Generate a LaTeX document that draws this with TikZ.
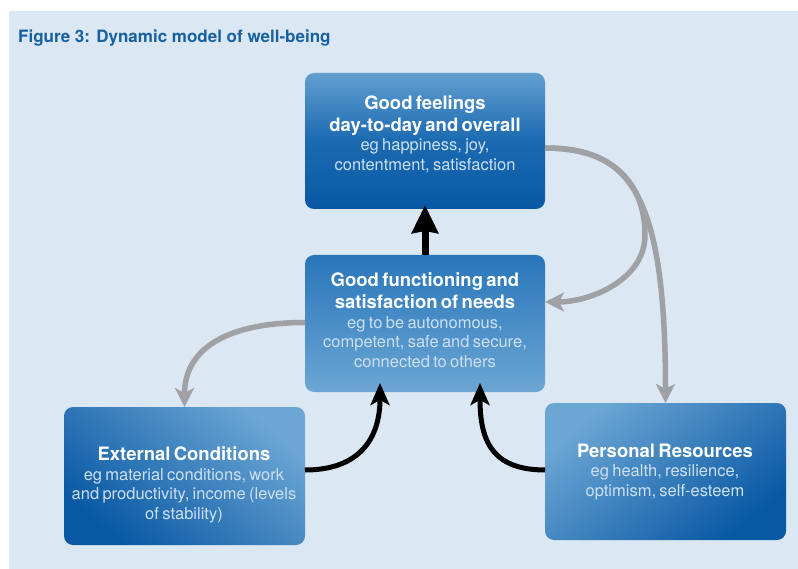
\documentclass[tikz,border=0pt]{standalone}
\usepackage{fontspec}
\setmainfont{TeX Gyre Heros}
\usetikzlibrary{arrows.meta}
\definecolor{bgblue}{RGB}{219,231,242}
\definecolor{titleblue}{RGB}{24,96,160}
\definecolor{boxdark}{RGB}{8,88,164}
\definecolor{boxmid}{RGB}{40,118,186}
\definecolor{boxlight}{RGB}{108,166,212}
\definecolor{bodytxt}{RGB}{205,224,242}
\definecolor{arrowgray}{RGB}{160,161,165}
\tikzset{
  box/.style={rectangle, rounded corners=9pt, inner sep=0pt, outer sep=0pt},
  txt/.style={text width=238pt, align=center, inner sep=0pt, text=white},
  grayarrow/.style={draw=arrowgray, line width=5.5pt, -{Stealth[length=19pt,width=19pt,inset=5pt]}},
  blackarrow/.style={draw=black, line width=5pt, -{Stealth[length=22pt,width=19pt,inset=5pt]}},
}
\newcommand{\hd}{\bfseries\fontsize{18.5}{22}\selectfont}
\newcommand{\bd}{\mdseries\fontsize{16.5}{19.5}\selectfont\color{bodytxt}}
\begin{document}
\begin{tikzpicture}[x=1pt,y=-1pt]
\useasboundingbox (0,0) rectangle (798,569);
\fill[bgblue] (9,11) rectangle (798,569);
\node[anchor=base west, text=titleblue, font=\bfseries\fontsize{17}{20}\selectfont, inner sep=0pt] (title) at (18,43) {Figure 3: Dynamic model of well-being};

% boxes
\node[box, minimum width=240pt, minimum height=136pt, top color=boxlight!85!boxmid, bottom color=boxdark, middle color=boxmid!60!boxdark] (top) at (425,141) {};
\node[box, minimum width=240pt, minimum height=137pt, top color=boxmid, bottom color=boxlight] (mid) at (425,323.5) {};
\node[box, minimum width=241pt, minimum height=138pt, top color=boxlight, bottom color=boxdark, shading angle=-40] (ext) at (184.5,476) {};
\node[box, minimum width=241pt, minimum height=137pt, top color=boxlight, bottom color=boxdark, shading angle=40] (pers) at (665.5,471.5) {};

% texts
\node[txt] (toptxt) at (425,134) {{\hd Good feelings\\day-to-day and overall\par}{\bd eg happiness, joy,\\contentment, satisfaction\par}};
\node[txt] (midtxt) at (425,320) {{\hd Good functioning and\\satisfaction of needs\par}{\bd eg to be autonomous,\\competent, safe and secure,\\connected to others\par}};
\node[txt] (exttxt) at (184,485) {{\hd External Conditions\par}{\bd eg material conditions, work\\and productivity, income (levels\\of stability)\par}};
\node[txt] (perstxt) at (665,472) {{\hd Personal Resources\par}{\bd eg health, resilience,\\optimism, self-esteem\par}};

% arrows
\coordinate (bend) at (645,235);
\draw[grayarrow] ([yshift=-7pt]top.east) .. controls +(75,0) and +(0,-45) .. (bend) .. controls +(0,45) and +(45,0) .. ([yshift=21.5pt]mid.east);
\draw[grayarrow] ([yshift=-7pt]top.east) .. controls +(85,0) and +(0,-210) .. (pers.north);
\draw[grayarrow] ([yshift=1pt]mid.west) .. controls +(-75,0) and +(0,-60) .. (ext.north);
\draw[blackarrow] ([yshift=6pt]ext.east) .. controls +(55,0) and +(0,55) .. ([xshift=-45pt,yshift=9pt]mid.south);
\draw[blackarrow] ([yshift=1.5pt]pers.west) .. controls +(-55,0) and +(0,55) .. ([xshift=55pt,yshift=9pt]mid.south);
\draw[line width=7pt, -{Stealth[length=28pt,width=26pt,inset=2pt]}] (mid.north) -- ([yshift=4pt]top.south);
\end{tikzpicture}
\end{document}
